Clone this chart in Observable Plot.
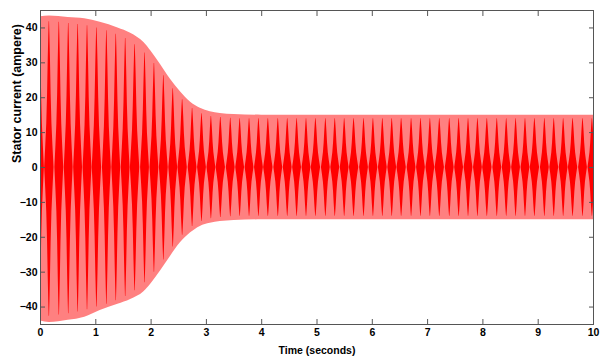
<!DOCTYPE html>
<html>
<head>
<meta charset="utf-8">
<script src="https://cdn.jsdelivr.net/npm/d3@7"></script>
<script src="https://cdn.jsdelivr.net/npm/@observablehq/plot@0.6"></script>
<style>
  html, body { margin: 0; padding: 0; background: #fff; }
  #chart { width: 608px; height: 356px; }
</style>
</head>
<body>
<div id="chart"></div>
<script>
// ---- data ----
const xTicks = [0, 1, 2, 3, 4, 5, 6, 7, 8, 9, 10];
const yTicks = [-40, -30, -20, -10, 0, 10, 20, 30, 40];
const xTitle = "Time (seconds)";
const yTitle = "Stator current (ampere)";

// envelope of the oscillating stator current (time in s, ampere)
const envTime   = [0, 0.16, 0.5, 0.8, 1.08, 1.4, 1.63, 1.87, 2.0, 2.17, 2.35, 2.53, 2.71, 2.89, 3.07, 3.25, 3.5, 4.0, 10];
const envTop    = [43.2, 43.4, 43.0, 42.6, 41.6, 40.0, 38.5, 35.8, 33.3, 29.5, 25.3, 21.7, 18.8, 17.0, 16.0, 15.5, 15.2, 15.0, 15.0];
const envBottom = [-44.0, -44.4, -43.8, -42.9, -41.0, -39.2, -37.8, -35.6, -33.3, -29.7, -25.5, -21.6, -18.8, -16.9, -16.0, -15.5, -15.2, -15.0, -15.0];

// dense dark beats visible in the waveform (centre time, top, bottom)
const spikeTime = [-0.01, 0.16, 0.34, 0.51, 0.68, 0.85, 1.02, 1.20, 1.37, 1.54, 1.71, 1.89, 2.06, 2.23, 2.40, 2.57, 2.75, 2.92,
  3.09, 3.26, 3.44, 3.61, 3.78, 3.95, 4.12, 4.30, 4.47, 4.64, 4.81, 4.98, 5.16, 5.33, 5.50, 5.67, 5.85, 6.02, 6.19, 6.36,
  6.53, 6.71, 6.88, 7.05, 7.22, 7.40, 7.57, 7.74, 7.91, 8.08, 8.26, 8.43, 8.60, 8.77, 8.94, 9.12, 9.29, 9.46, 9.63, 9.81, 9.98];
const spikeTop = [41.5, 41.8, 41.6, 41.3, 41.0, 40.6, 40.0, 39.2, 38.2, 37.0, 35.2, 32.8, 29.8, 26.3, 22.6, 19.4, 16.9, 15.4,
  14.6, 14.3, 14.1, 14.0, 14.0, 14.0, 14.0, 14.0, 14.0, 14.0, 14.0, 14.0, 14.0, 14.0, 14.0, 14.0, 14.0, 14.0, 14.0, 14.0,
  14.0, 14.0, 14.0, 14.0, 14.0, 14.0, 14.0, 14.0, 14.0, 14.0, 14.0, 14.0, 14.0, 14.0, 14.0, 14.0, 14.0, 14.0, 14.0, 14.0, 14.0];
const spikeBottom = [-42.3, -42.6, -42.3, -41.9, -41.4, -40.8, -40.0, -39.2, -38.2, -37.0, -35.3, -33.0, -30.0, -26.5, -22.8, -19.4, -16.9, -15.5,
  -14.7, -14.3, -14.1, -14.0, -14.0, -14.0, -14.0, -14.0, -14.0, -14.0, -14.0, -14.0, -14.0, -14.0, -14.0, -14.0, -14.0, -14.0, -14.0, -14.0,
  -14.0, -14.0, -14.0, -14.0, -14.0, -14.0, -14.0, -14.0, -14.0, -14.0, -14.0, -14.0, -14.0, -14.0, -14.0, -14.0, -14.0, -14.0, -14.0, -14.0, -14.0];

// ---- tables built from the arrays ----
const envelope = envTime.map((t, i) => ({t, top: envTop[i], bottom: envBottom[i]}));

// spindle outline of each dark beat: fraction of height vs half-width (fraction of beat gap)
const shapeF  = [0, 0.15, 0.3, 0.5, 0.75, 0.9, 1];
const shapeHW = [0.47, 0.36, 0.26, 0.18, 0.11, 0.06, 0.02];
const spindles = [];
spikeTime.forEach((tc, k) => {
  const gap = k < spikeTime.length - 1 ? spikeTime[k + 1] - tc : tc - spikeTime[k - 1];
  const order = [...shapeF.keys()];
  const pts = [
    ...order.map(i => ({x: tc - shapeHW[i] * gap, f: shapeF[i]})),
    ...order.slice().reverse().map(i => ({x: tc + shapeHW[i] * gap, f: shapeF[i]}))
  ];
  pts.forEach(p => spindles.push({k, x: p.x, y1: spikeBottom[k] * p.f, y2: spikeTop[k] * p.f}));
});

const font = "'Liberation Sans', Arial, sans-serif";

const chart = Plot.plot({
  width: 608,
  height: 356,
  marginLeft: 40,
  marginRight: 15,
  marginTop: 10,
  marginBottom: 32,
  style: {fontFamily: font, fontSize: "10px", fontWeight: "bold", color: "#000", background: "#fff"},
  x: {domain: [0, 10]},
  y: {domain: [-45, 45]},
  marks: [
    Plot.areaY(envelope, {x: "t", y1: "bottom", y2: "top", fill: "#ff8080", curve: "monotone-x"}),
    Plot.areaY(spindles, {x: "x", y1: "y1", y2: "y2", z: "k", fill: "#ff0000", clip: true}),
    Plot.frame({stroke: "#555"}),
    // inward ticks on all four sides
    Plot.axisX({anchor: "bottom", ticks: xTicks, tickSize: -5, stroke: "#555", tickFormat: () => "", label: null}),
    Plot.axisX({anchor: "top", ticks: xTicks, tickSize: -5, stroke: "#555", tickFormat: () => "", label: null}),
    Plot.axisY({anchor: "left", ticks: yTicks, tickSize: -5, stroke: "#555", tickFormat: () => "", label: null}),
    Plot.axisY({anchor: "right", ticks: yTicks, tickSize: -5, stroke: "#555", tickFormat: () => "", label: null}),
    // tick labels and titles
    Plot.axisX({anchor: "bottom", ticks: xTicks, tickSize: 0, tickPadding: 4, fill: "#000", fontSize: 10.5,
      label: xTitle, labelAnchor: "center", labelOffset: 29, labelArrow: "none"}),
    Plot.axisY({anchor: "left", ticks: yTicks, tickSize: 0, tickPadding: 3, fill: "#000", fontSize: 10.5, label: null}),
    Plot.text([yTitle], {frameAnchor: "left", rotate: -90, dx: -23.5, dy: -4.5, fontSize: 12.5,
      fontWeight: "bold", fill: "#000", text: d => d})
  ]
});
document.getElementById("chart").appendChild(chart);
</script>
</body>
</html>
